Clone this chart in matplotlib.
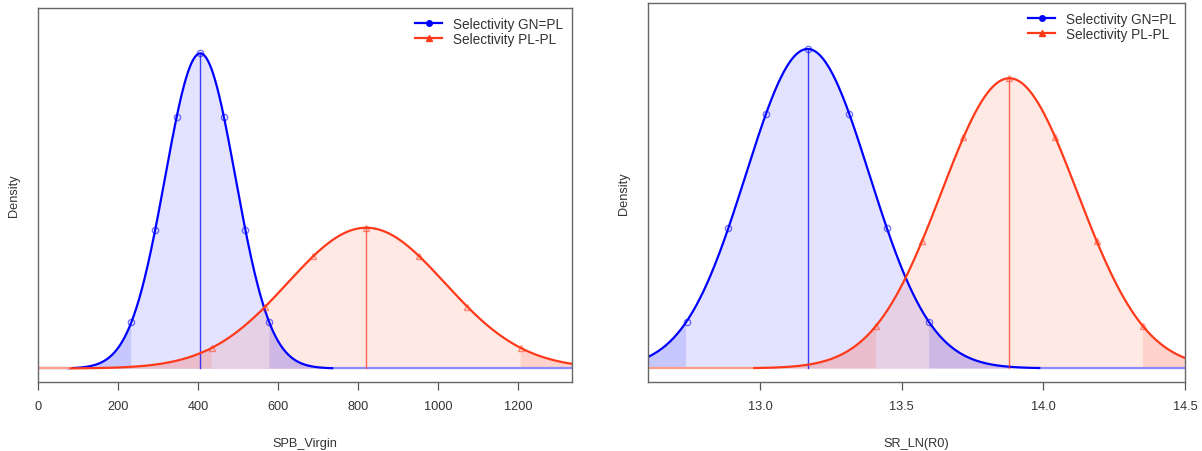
import matplotlib
matplotlib.use('AGG')
import matplotlib.pyplot as plt
import numpy as np
from statistics import NormalDist

plt.rcParams['font.family'] = ['Liberation Sans', 'DejaVu Sans']

# model names and colours
models = ['Selectivity GN=PL', 'Selectivity PL-PL']
colors = ['#0000FF', '#FF3A1A']
faint = ['#8C8CFF', '#FF9C8C']
markers = ['o', '^']

# estimate and standard deviation per parameter, one value per model
spb_mean = [405, 820]
spb_sd = [88, 197]
r0_mean = [13.168, 13.880]
r0_sd = [0.218, 0.240]

# quantiles where the markers sit
probs = [0.025, 0.1, 0.25, 0.5, 0.75, 0.9, 0.975]

spb_ticks = [0, 200, 400, 600, 800, 1000, 1200]
r0_ticks = [13.0, 13.5, 14.0, 14.5]
r0_ticklabels = ['13.0', '13.5', '14.0', '14.5']


def density_panel(ax, means, sds, xlim, xlabel, ticks, ticklabels):
    top = 0
    for mu, sd, col, fc, mk, name in zip(means, sds, colors, faint, markers, models):
        nd = NormalDist(mu, sd)
        x = np.linspace(xlim[0], xlim[1], 800)
        y = np.array([nd.pdf(v) for v in x])
        top = max(top, nd.pdf(mu))
        lo, hi = nd.inv_cdf(0.025), nd.inv_cdf(0.975)
        a, b = mu - 3.75 * sd, mu + 3.75 * sd

        # whole curve lightly shaded, tails shaded again
        ax.fill_between(x, 0, y, color=col, alpha=0.11, lw=0)
        ax.fill_between(x, 0, y, where=(x <= lo) | (x >= hi),
                        color=col, alpha=0.12, lw=0)

        # faint baseline outside the drawn curve
        if a > xlim[0]:
            ax.plot([xlim[0], a], [0, 0], color=fc, lw=1.6)
        if b < xlim[1]:
            ax.plot([b, xlim[1]], [0, 0], color=fc, lw=1.6)

        # solid line only near the bulk of the distribution
        xs = np.linspace(a, b, 500)
        ax.plot(xs, [nd.pdf(v) for v in xs], color=col, lw=1.6)
        ax.plot([mu, mu], [0, nd.pdf(mu)], color=col, lw=1.0, alpha=0.75)

        qx = [nd.inv_cdf(p) for p in probs]
        qy = [nd.pdf(v) for v in qx]
        ax.plot(qx, qy, ls='none', marker=mk, ms=4.5, mfc='none',
                mec=col, mew=1.0, alpha=0.55)
        # legend proxy
        ax.plot([], [], color=col, lw=1.6, marker=mk, ms=4, label=name)

    ax.set_xlim(xlim)
    ax.set_ylim(-0.042 * top, 1.143 * top)
    ax.set_yticks([])
    ax.set_xticks(ticks)
    ax.set_xticklabels(ticklabels)
    ax.tick_params(axis='x', length=5.5, width=0.9, color='#555555',
                   labelsize=9.2, labelcolor='#333333', pad=8)
    for s in ax.spines.values():
        s.set_color('#666666')
        s.set_linewidth(1.0)
    ax.set_xlabel(xlabel, fontsize=9.2, color='#333333', labelpad=18)
    ax.set_ylabel('Density', fontsize=9.2, color='#333333', labelpad=13)
    ax.legend(loc='upper right', frameon=False, fontsize=9.8,
              handlelength=2.0, handletextpad=0.8, labelspacing=0.05,
              borderaxespad=0.25, labelcolor='#333333')


fig = plt.figure(figsize=(12.02, 4.52), dpi=100)
ax1 = fig.add_axes([0.0319, 0.1533, 0.4441, 0.8261])
ax2 = fig.add_axes([0.5394, 0.1533, 0.4465, 0.8372])

density_panel(ax1, spb_mean, spb_sd, (0, 1335), 'SPB_Virgin',
              spb_ticks, [str(t) for t in spb_ticks])
density_panel(ax2, r0_mean, r0_sd, (12.606, 14.5), 'SR_LN(R0)',
              r0_ticks, r0_ticklabels)

fig.savefig('out.png', dpi=100)
